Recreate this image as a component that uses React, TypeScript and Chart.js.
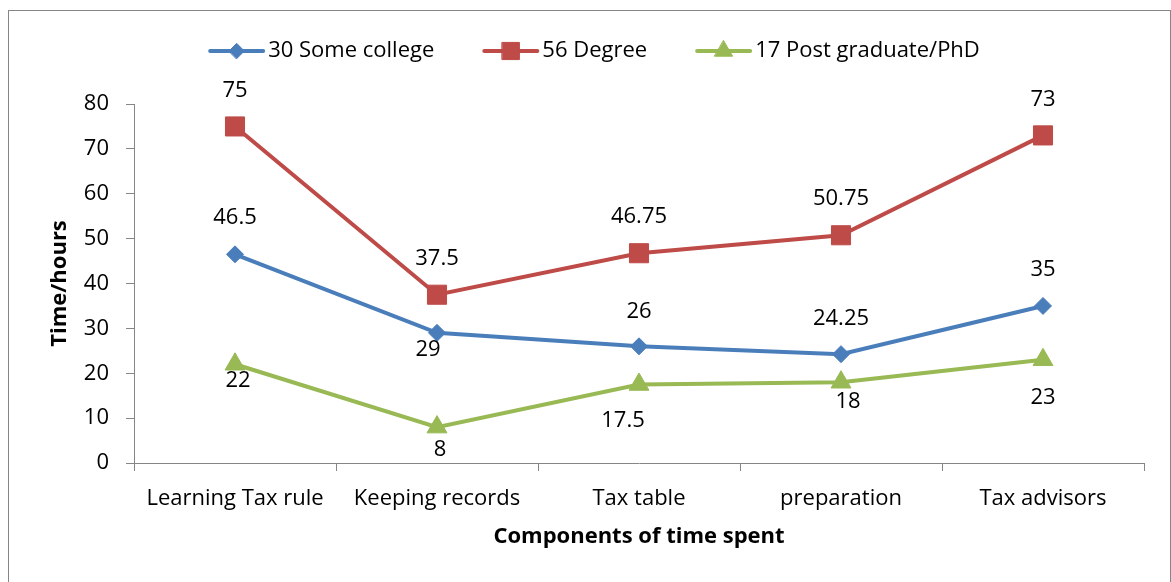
import React, { useEffect, useRef } from 'react';
import { Chart, registerables } from 'chart.js';

Chart.register(...registerables);

// ---- data ----
const categories = ['Learning Tax rule', 'Keeping records', 'Tax table', 'preparation', 'Tax advisors'];
const someCollege = [46.5, 29, 26, 24.25, 35];
const degree = [75, 37.5, 46.75, 50.75, 73];
const postGraduate = [22, 8, 17.5, 18, 23];
const seriesNames = ['30 Some college', '56 Degree', '17 Post graduate/PhD'];
const yMin = 0;
const yMax = 80;
const yStep = 10;
const xTitle = 'Components of time spent';
const yTitle = 'Time/hours';

// ---- style ----
const FONT = "'Open Sans', Lato, sans-serif";
const FS = 22;
const COLORS = ['#4A7EBB', '#BE4B48', '#98B954'];
const STYLES = ['rectRot', 'rect', 'triangle'];
const RADII = [8.5, 13.5, 11.5];
const AXIS = '#868686';
// data label offsets (dx, dy) relative to the point, per series
const labelOffsets = [
  [[0, -37], [-9, 17], [0, -35], [0, -35], [0, -36]],
  [[0, -36], [0, -36], [0, -36], [0, -37], [0, -36]],
  [[3, 16], [3, 23], [-16, 36], [7, 20], [0, 38]],
];

function drawMarker(ctx: CanvasRenderingContext2D, style: string, x: number, y: number, r: number, color: string) {
  ctx.save();
  ctx.fillStyle = color;
  ctx.strokeStyle = color;
  ctx.lineWidth = 1;
  ctx.beginPath();
  if (style === 'rectRot') {
    ctx.moveTo(x - r, y);
    ctx.lineTo(x, y - r);
    ctx.lineTo(x + r, y);
    ctx.lineTo(x, y + r);
  } else if (style === 'rect') {
    const s = r * Math.SQRT1_2;
    ctx.rect(x - s, y - s, 2 * s, 2 * s);
  } else {
    const h = r * Math.sin(Math.PI / 3);
    ctx.moveTo(x, y - r);
    ctx.lineTo(x + h, y + r / 2);
    ctx.lineTo(x - h, y + r / 2);
  }
  ctx.closePath();
  ctx.fill();
  ctx.stroke();
  ctx.restore();
}

const legendPlugin = {
  id: 'customLegend',
  afterDraw(chart: any) {
    const ctx: CanvasRenderingContext2D = chart.ctx;
    ctx.save();
    ctx.font = `${FS}px ${FONT}`;
    const lineLen = 57;
    const gap = 3;
    const spacing = 48;
    const widths = seriesNames.map((n) => lineLen + gap + ctx.measureText(n).width);
    const total = widths.reduce((a, b) => a + b, 0) + spacing * (seriesNames.length - 1);
    const cy = 40;
    let x = 585 - total / 2;
    seriesNames.forEach((name, i) => {
      ctx.strokeStyle = COLORS[i];
      ctx.lineWidth = 4;
      ctx.lineCap = 'round';
      ctx.beginPath();
      ctx.moveTo(x + 2, cy);
      ctx.lineTo(x + lineLen - 2, cy);
      ctx.stroke();
      drawMarker(ctx, STYLES[i], x + lineLen / 2, cy, RADII[i] * 0.9, COLORS[i]);
      ctx.fillStyle = '#000';
      ctx.textAlign = 'left';
      ctx.textBaseline = 'middle';
      ctx.fillText(name, x + lineLen + gap, cy);
      x += widths[i] + spacing;
    });
    ctx.restore();
  },
};

const dataLabelPlugin = {
  id: 'dataLabels',
  afterDatasetsDraw(chart: any) {
    const ctx: CanvasRenderingContext2D = chart.ctx;
    ctx.save();
    ctx.font = `${FS}px ${FONT}`;
    ctx.fillStyle = '#000';
    ctx.textAlign = 'center';
    ctx.textBaseline = 'middle';
    chart.data.datasets.forEach((ds: any, i: number) => {
      const meta = chart.getDatasetMeta(i);
      meta.data.forEach((pt: any, j: number) => {
        const [dx, dy] = labelOffsets[i][j];
        ctx.fillText(String(ds.data[j]), pt.x + dx, pt.y + dy);
      });
    });
    ctx.restore();
  },
};

export default function App() {
  const ref = useRef<HTMLCanvasElement | null>(null);

  useEffect(() => {
    document.documentElement.style.overflow = 'hidden';
    document.body.style.overflow = 'hidden';
    const canvas = ref.current;
    if (!canvas) return;
    const series = [someCollege, degree, postGraduate];
    const chart = new Chart(canvas, {
      type: 'line',
      data: {
        labels: categories,
        datasets: series.map((d, i) => ({
          label: seriesNames[i],
          data: d,
          borderColor: COLORS[i],
          backgroundColor: COLORS[i],
          borderWidth: 4,
          tension: 0,
          pointStyle: STYLES[i] as any,
          pointRadius: RADII[i],
          pointHoverRadius: RADII[i],
          pointBackgroundColor: COLORS[i],
          pointBorderColor: COLORS[i],
          pointBorderWidth: 1,
          fill: false,
        })),
      },
      options: {
        animation: false,
        responsive: false,
        maintainAspectRatio: false,
        events: [],
        layout: { padding: { top: 93, right: 26, bottom: 0, left: 0 } },
        plugins: {
          legend: { display: false },
          tooltip: { enabled: false },
        },
        scales: {
          x: {
            type: 'category',
            offset: true,
            afterFit: (s: any) => { s.height = 119; },
            grid: {
              display: true,
              drawOnChartArea: false,
              drawTicks: true,
              tickLength: 8,
              color: AXIS,
              offset: true,
            },
            border: { display: true, color: AXIS, width: 1 },
            ticks: {
              color: '#000',
              font: { family: FONT, size: FS },
              padding: 15,
              autoSkip: false,
              maxRotation: 0,
            },
            title: {
              display: true,
              text: xTitle,
              color: '#000',
              font: { family: FONT, size: FS, weight: 'bold', lineHeight: 1 },
              padding: { top: 0, bottom: 34 },
            },
          },
          y: {
            min: yMin,
            max: yMax,
            afterFit: (s: any) => { s.width = 125; },
            grid: {
              display: true,
              drawOnChartArea: false,
              drawTicks: true,
              tickLength: 8,
              color: AXIS,
            },
            border: { display: true, color: AXIS, width: 1 },
            ticks: {
              stepSize: yStep,
              color: '#000',
              font: { family: FONT, size: FS },
              padding: 17,
            },
            title: {
              display: true,
              text: yTitle,
              color: '#000',
              font: { family: FONT, size: FS, weight: 'bold', lineHeight: 1 },
              padding: { top: 40, bottom: 0 },
            },
          },
        },
      },
      plugins: [dataLabelPlugin, legendPlugin],
    });
    return () => chart.destroy();
  }, []);

  return (
    <div
      style={{
        position: 'absolute',
        left: 8,
        top: 10,
        width: 1161,
        height: 600,
        border: `1px solid ${AXIS}`,
        background: '#fff',
      }}
    >
      <canvas ref={ref} width={1161} height={571} style={{ display: 'block', width: 1161, height: 571 }} />
    </div>
  );
}
